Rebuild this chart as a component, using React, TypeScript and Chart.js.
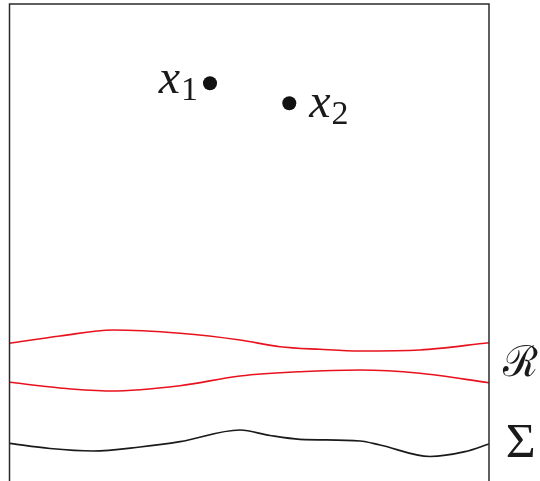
import React, { useEffect, useRef } from "react";
import { Chart, registerables } from "chart.js";

Chart.register(...registerables);

// Frame (left side, top, right side; open at the bottom)
const frameX = [9.5, 9.5, 489, 489];
const frameY = [481, 4, 4, 481];

// Upper red curve of R
const upperRX = [9.5, 60, 113, 180, 240, 280, 320, 360, 420, 489];
const upperRY = [343.3, 336, 330, 333.3, 340, 346.7, 349.3, 351, 350, 342.7];

// Lower red curve of R
const lowerRX = [9.5, 60, 110, 180, 240, 300, 360, 420, 489];
const lowerRY = [382.3, 388, 391, 385.7, 376, 371.7, 370, 373.3, 382.7];

// Black curve Sigma
const sigmaX = [9.5, 50, 93, 140, 180, 240, 270, 300, 360, 380, 430, 465, 489];
const sigmaY = [443.3, 448.5, 451, 447, 441.7, 430, 435.5, 439.3, 441, 445, 456.5, 451.7, 444];

// Points
const pointX = [210, 289.3];
const pointY = [83.3, 103.3];
const pointSubs = ["1", "2"];

const toXY = (xs: number[], ys: number[]) => xs.map((x, i) => ({ x, y: ys[i] }));

const MAIN_FONT = "italic 48px 'Liberation Serif'";
const SUB_FONT = "34px 'Liberation Serif'";
const SYM_FONT = "40px 'Liberation Serif'";

const labelPlugin = {
  id: "labels",
  afterDatasetsDraw(chart: any) {
    const ctx = chart.ctx as CanvasRenderingContext2D;
    const xs = chart.scales.x;
    const ys = chart.scales.y;
    ctx.save();
    ctx.fillStyle = "#1a1a1a";
    ctx.textBaseline = "alphabetic";
    ctx.textAlign = "left";
    pointX.forEach((vx, i) => {
      const px = xs.getPixelForValue(vx);
      const py = ys.getPixelForValue(pointY[i]);
      ctx.font = MAIN_FONT;
      const wMain = ctx.measureText("x").width;
      ctx.font = SUB_FONT;
      const wSub = ctx.measureText(pointSubs[i]).width;
      let left: number;
      let base: number;
      if (i === 0) {
        left = px - 12 - (wMain + 1 + wSub);
        base = py + 10;
      } else {
        left = px + 20;
        base = py + 13.5;
      }
      ctx.font = MAIN_FONT;
      ctx.fillText("x", left, base);
      ctx.font = SUB_FONT;
      ctx.fillText(pointSubs[i], left + wMain + 1, base + 7);
    });

    // draw a glyph so that its ink box fills the given box
    const drawFit = (t: string, left: number, top: number, w: number, h: number) => {
      ctx.save();
      ctx.font = SYM_FONT;
      const m = ctx.measureText(t);
      const iw = m.actualBoundingBoxLeft + m.actualBoundingBoxRight;
      const ih = m.actualBoundingBoxAscent + m.actualBoundingBoxDescent;
      ctx.translate(left, top);
      ctx.scale(w / iw, h / ih);
      ctx.fillText(t, m.actualBoundingBoxLeft, m.actualBoundingBoxAscent);
      ctx.restore();
    };
    const rightPx = xs.getPixelForValue(frameX[2]);
    const rMid = ys.getPixelForValue((upperRY[upperRY.length - 1] + lowerRY[lowerRY.length - 1]) / 2);
    drawFit("ℛ", rightPx + 13, rMid - 17.5, 36, 32);
    const sEnd = ys.getPixelForValue(sigmaY[sigmaY.length - 1]);
    drawFit("Σ", rightPx + 18, sEnd - 19, 27, 32);
    ctx.restore();
  },
};

export default function App() {
  const ref = useRef<HTMLCanvasElement | null>(null);
  useEffect(() => {
    let chart: Chart | null = null;
    let cancelled = false;
    const build = () => {
      if (cancelled || !ref.current) return;
      chart = new Chart(ref.current, {
        type: "scatter",
        data: {
          datasets: [
            {
              data: toXY(frameX, frameY),
              showLine: true,
              borderColor: "#2b2b2b",
              borderWidth: 1.5,
              pointRadius: 0,
              tension: 0,
            },
            {
              data: toXY(upperRX, upperRY),
              showLine: true,
              borderColor: "#e8121e",
              borderWidth: 1.6,
              pointRadius: 0,
              cubicInterpolationMode: "monotone",
            },
            {
              data: toXY(lowerRX, lowerRY),
              showLine: true,
              borderColor: "#e8121e",
              borderWidth: 1.6,
              pointRadius: 0,
              cubicInterpolationMode: "monotone",
            },
            {
              data: toXY(sigmaX, sigmaY),
              showLine: true,
              borderColor: "#1a1a1a",
              borderWidth: 1.7,
              pointRadius: 0,
              cubicInterpolationMode: "monotone",
            },
            {
              data: toXY(pointX, pointY),
              showLine: false,
              backgroundColor: "#111",
              borderColor: "#111",
              pointRadius: 7,
              pointBorderWidth: 0,
            },
          ],
        } as any,
        options: {
          animation: false,
          responsive: false,
          maintainAspectRatio: false,
          layout: { padding: 0, autoPadding: false },
          plugins: { legend: { display: false }, tooltip: { enabled: false } },
          scales: {
            x: { type: "linear", min: 0, max: 540, display: false },
            y: { type: "linear", min: 0, max: 481, reverse: true, display: false },
          },
        } as any,
        plugins: [labelPlugin],
      });
    };
    const fontsApi = (document as any).fonts;
    if (fontsApi && fontsApi.load) {
      Promise.all([MAIN_FONT, SUB_FONT, SYM_FONT].map((f) => fontsApi.load(f, "x1Σℛ").catch(() => null)))
        .then(build, build);
    } else {
      build();
    }
    return () => {
      cancelled = true;
      if (chart) chart.destroy();
    };
  }, []);
  return (
    <div style={{ position: "fixed", left: 0, top: 0, width: 540, height: 481, background: "#fff" }}>
      <canvas ref={ref} width={540} height={481} style={{ width: 540, height: 481, display: "block" }} />
    </div>
  );
}
